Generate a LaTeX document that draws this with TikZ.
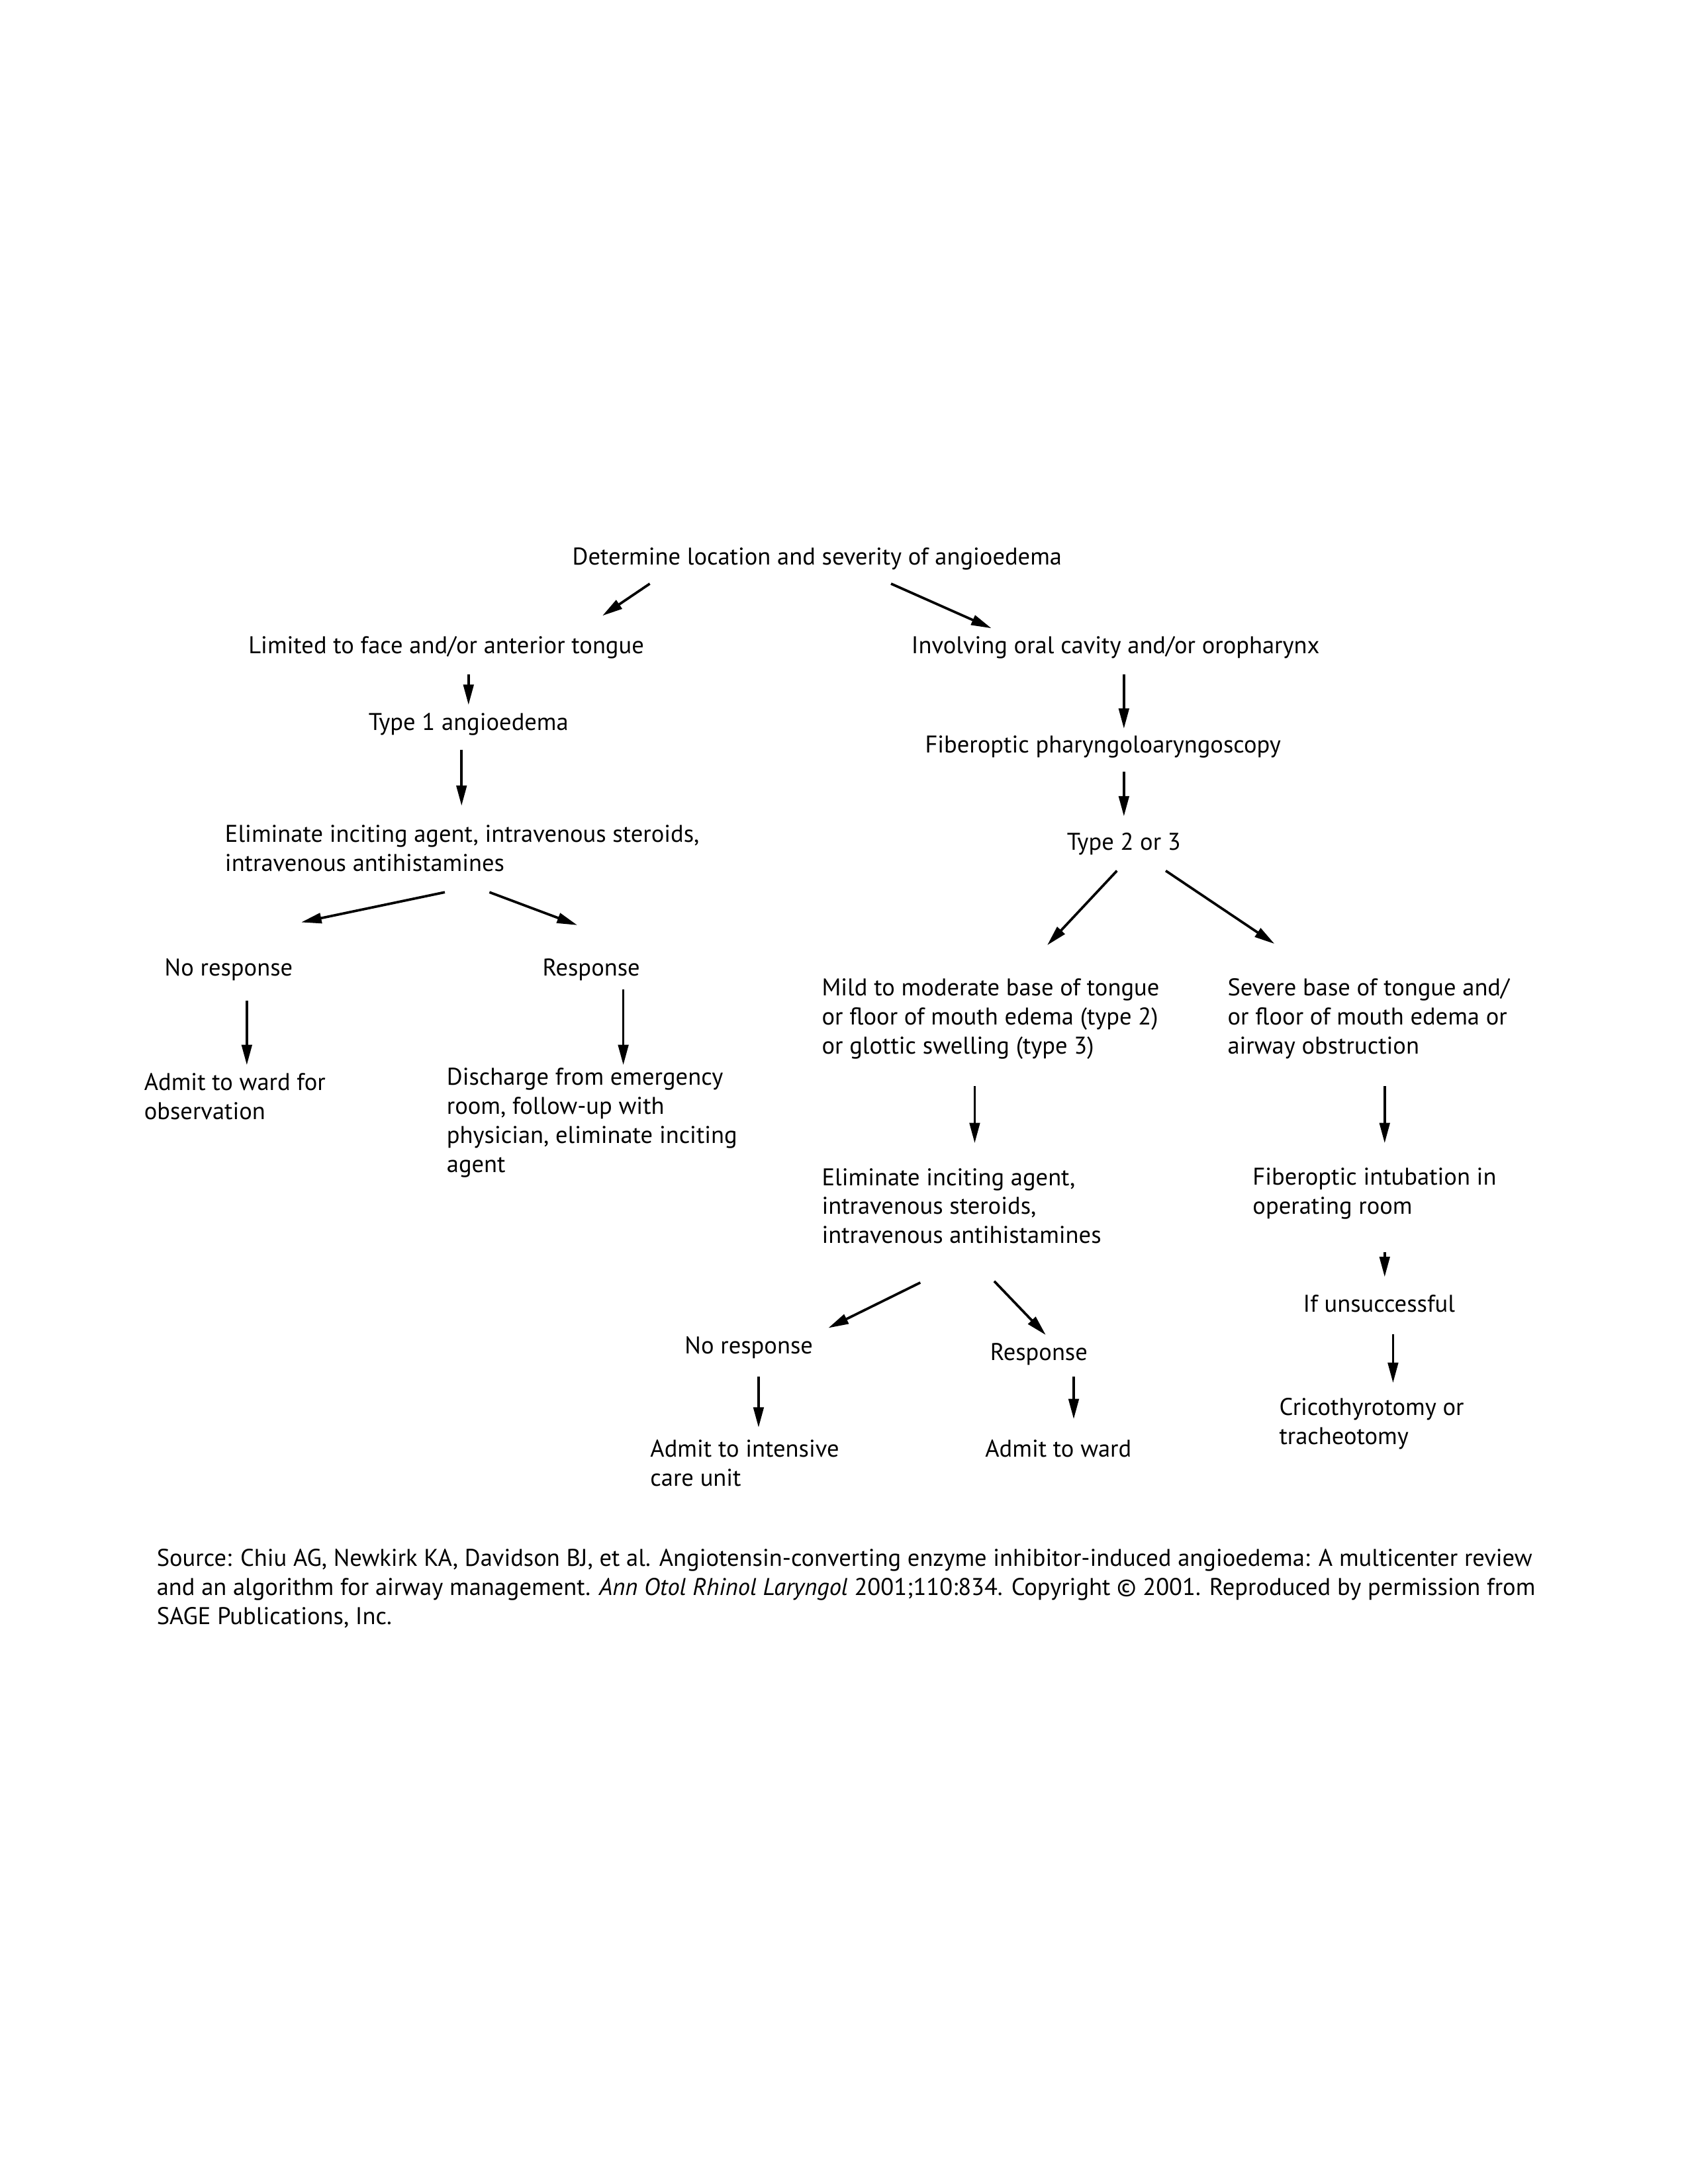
\documentclass[tikz,border=0pt]{standalone}
\usepackage{fontspec}
\setmainfont{PT Sans}
\usetikzlibrary{arrows.meta,calc}
\begin{document}
\begin{tikzpicture}[x=0.017835cm, y=-0.017835cm,
  lbl/.style={inner sep=0, anchor=base, font=\fontsize{8.8}{10.6}\selectfont},
  blk/.style={lbl, anchor=base west, align=left},
  arr/.style={line width=0.9pt, -{Triangle[length=2.6mm,width=1.3mm]}}]
\useasboundingbox (0,0) rectangle (1210.5,1566.6);
%Top:
\node[lbl] (top) at (586,405) {Determine location and severity of angioedema};
\node[lbl] (lim) at (320,469) {Limited to face and/or anterior tongue};
\node[lbl] (inv) at (800,469) {Involving oral cavity and/or oropharynx};
\draw[arr] ($(top)+(-120,18)$) -- ($(lim)+(112,-23)$);
\draw[arr] ($(top)+(53,18)$) -- ($(inv)+(-89,-14)$);
%Left branch:
\node[lbl] (typ1) at (336,524) {Type 1 angioedema};
\node[blk] (elimL) at (161,625) {Eliminate inciting agent, intravenous steroids,\\intravenous antihistamines};
\node[lbl] (noL) at (164,700) {No response};
\node[lbl] (resL) at (424,700) {Response};
\node[blk] (admL) at (103,803) {Admit to ward for\\observation};
\node[blk] (disL) at (320,841) {Discharge from emergency\\room, follow-up with\\physician, eliminate inciting\\agent};
\draw[arr] ($(lim)+(16,19)$) -- ($(typ1)+(0,-14)$);
\draw[arr] ($(typ1)+(-5,18)$) -- ($(elimL.base west)+(170,-47)$);
\draw[arr] ($(elimL.base west)+(158,15)$) -- ($(noL)+(52,-34)$);
\draw[arr] ($(elimL.base west)+(190,15)$) -- ($(resL)+(-10,-32)$);
\draw[arr] ($(noL)+(13,22)$) -- ($(admL.base west)+(74,-39)$);
\draw[arr] ($(resL)+(23,14)$) -- ($(disL.base west)+(127,-77)$);
%Right branch:
\node[lbl] (fib) at (791,540) {Fiberoptic pharyngoloaryngoscopy};
\node[lbl] (typ23) at (806,610) {Type 2 or 3};
\node[blk] (mild) at (589,756) {Mild to moderate base of tongue\\or floor of mouth edema (type 2)\\or glottic swelling (type 3)};
\node[blk] (sev) at (880,756) {Severe base of tongue and/\\or floor of mouth edema or\\airway obstruction};
\node[blk] (elimR) at (589,892) {Eliminate inciting agent,\\intravenous steroids,\\intravenous antihistamines};
\node[blk] (intub) at (898,871) {Fiberoptic intubation in\\operating room};
\node[lbl] (unsucc) at (989,941) {If unsuccessful};
\node[blk] (cric) at (917,1036) {Cricothyrotomy or\\tracheotomy};
\node[lbl] (noR) at (537,971) {No response};
\node[lbl] (resR) at (745,976) {Response};
\node[blk] (admICU) at (466,1066) {Admit to intensive\\care unit};
\node[lbl] (admW) at (759,1045) {Admit to ward};
\draw[arr] ($(inv)+(6,19)$) -- ($(fib)+(15,-13)$);
\draw[arr] ($(fib)+(15,18)$) -- ($(typ23)+(0,-20)$);
\draw[arr] ($(typ23)+(-5,19)$) -- ($(mild.base west)+(162,-78)$);
\draw[arr] ($(typ23)+(30,19)$) -- ($(sev.base west)+(34,-79)$);
\draw[arr] ($(mild.base west)+(110,23)$) -- ($(elimR.base west)+(110,-72)$);
\draw[arr] ($(sev.base west)+(113,23)$) -- ($(intub.base west)+(95,-51)$);
\draw[arr] ($(intub.base west)+(95,27)$) -- ($(unsucc)+(4,-19)$);
\draw[arr] ($(unsucc)+(10,22)$) -- ($(cric.base west)+(82,-44)$);
\draw[arr] ($(elimR.base west)+(71,28)$) -- ($(noR)+(57,-14)$);
\draw[arr] ($(elimR.base west)+(124,27)$) -- ($(resR)+(5,-14)$);
\draw[arr] ($(noR)+(7,21)$) -- ($(admICU.base west)+(78,-42)$);
\draw[arr] ($(resR)+(25,16)$) -- ($(admW)+(11,-21)$);
%Source:
\node[blk] (src) at (112,1165) {Source: Chiu AG, Newkirk KA, Davidson BJ, et al. Angiotensin-converting enzyme inhibitor-induced angioedema: A multicenter review\\and an algorithm for airway management. \textit{Ann Otol Rhinol Laryngol} 2001;110:834. Copyright © 2001. Reproduced by permission from\\SAGE Publications, Inc.};
\end{tikzpicture}
\end{document}
